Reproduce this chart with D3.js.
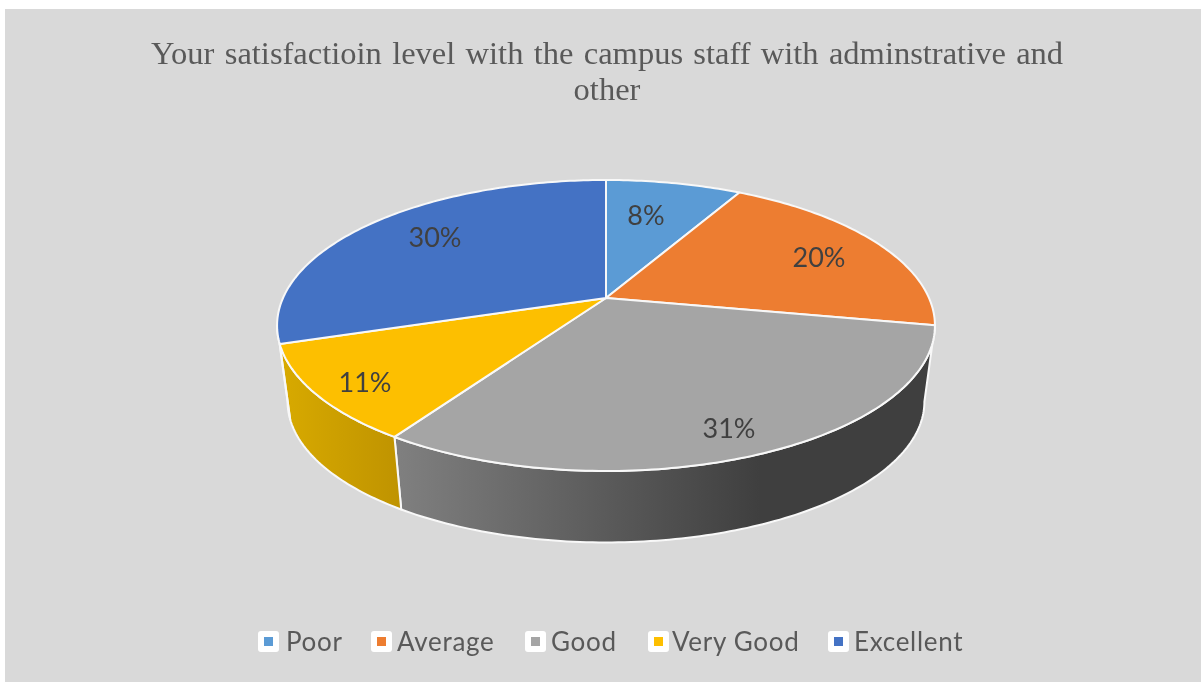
<!DOCTYPE html>
<html><head><meta charset="utf-8">
<script src="https://cdn.jsdelivr.net/npm/d3@7"></script>
<style>html,body{margin:0;padding:0;background:#fff;overflow:hidden}svg{display:block;filter:blur(0.5px)}</style>
</head><body><svg id="c" width="1201" height="682"></svg>
<script>
const categories = ["Poor","Average","Good","Very Good","Excellent"];
const values = [8,20,31.3,10.7,30];
const colors = ["#5b9bd5","#ed7d31","#a5a5a5","#fdbf00","#4472c4"];
const sideLeft = ["#5b9bd5","#ed7d31","#808080","#d8aa00","#345a9c"];
const sideRight = ["#5b9bd5","#ed7d31","#3f3f3f","#bf9300","#345a9c"];
const titleLines = ["Your satisfactioin level with the campus staff with adminstrative and","other"];

const svg = d3.select("#c");
svg.append("rect").attr("x",5).attr("y",9).attr("width",1196).attr("height",673).attr("fill","#d9d9d9");

const colour = d3.scaleOrdinal().domain(categories).range(colors);
const pie = d3.pie().sort(null).value(d=>d.v);
const arcs = pie(categories.map((c,i)=>({c,v:values[i],i})));

// perspective projection of the pie disc
const cx=606, cy=298, A=323, B=140.3, K=0.189, depth=77, baseScale=0.968;
function topPt(a){const u=Math.sin(a),v=-Math.cos(a),d=1-K*v;return [cx+A*u/d, cy+B*v/d];}
function basePt(a){const u=Math.sin(a),v=-Math.cos(a),d=1-K*v;return [cx+baseScale*A*u/d, cy+depth+baseScale*B*v/d];}
const line=d3.line();
const samples=(a0,a1)=>{const n=Math.max(2,Math.ceil((a1-a0)*60));return d3.range(n+1).map(i=>a0+(a1-a0)*i/n);};

const defs=svg.append("defs");
const frontA=Math.PI/2+Math.asin(K), frontB=2*Math.PI-frontA;

// side walls
const stroke="#f8f8f8";
arcs.forEach(d=>{
  const a0=Math.max(d.startAngle,frontA), a1=Math.min(d.endAngle,frontB);
  if(a1<=a0) return;
  const s=samples(a0,a1);
  const pts=s.map(topPt).concat(s.slice().reverse().map(basePt));
  const xs=pts.map(p=>p[0]);
  const id="side"+d.index;
  const g=defs.append("linearGradient").attr("id",id).attr("gradientUnits","userSpaceOnUse")
    .attr("x1",d3.min(xs)).attr("x2",d.index===2?760:d3.max(xs)).attr("y1",0).attr("y2",0);
  g.append("stop").attr("offset",0).attr("stop-color",sideLeft[d.index]);
  g.append("stop").attr("offset",1).attr("stop-color",sideRight[d.index]);
  svg.append("path").attr("d",line(pts)+"Z").attr("fill",`url(#${id})`)
    .attr("stroke",stroke).attr("stroke-width",2).attr("stroke-linejoin","round");
});

// top faces
arcs.forEach(d=>{
  const pts=[[cx,cy]].concat(samples(d.startAngle,d.endAngle).map(topPt));
  svg.append("path").attr("d",line(pts)+"Z").attr("fill",colour(d.data.c))
    .attr("stroke",stroke).attr("stroke-width",2).attr("stroke-linejoin","round");
});

// data labels
const labelAt=[[646,216],[819,258],[729,429],[365,383],[435,238]];
arcs.forEach((d,i)=>{
  svg.append("text").attr("x",labelAt[i][0]).attr("y",labelAt[i][1]).attr("dy","0.35em")
    .attr("text-anchor","middle").attr("font-family","Lato").attr("font-size",27)
    .attr("fill","#404040").text(Math.round(d.data.v)+"%");
});

// title
svg.selectAll("text.t").data(titleLines).join("text").attr("class","t")
  .attr("x",607).attr("y",(d,i)=>63.5+i*36).attr("text-anchor","middle")
  .attr("font-family","Liberation Serif").attr("font-size",32.5).attr("fill","#595959")
  .attr("word-spacing",(d,i)=>i===0?2.2:0).text(d=>d);

// legend
const legX=[258,371,525,648,828], textX=[286,397,551,672,854];
categories.forEach((c,i)=>{
  svg.append("rect").attr("x",legX[i]).attr("y",631).attr("width",21).attr("height",21).attr("rx",3).attr("fill","#fff");
  svg.append("rect").attr("x",legX[i]+6).attr("y",637).attr("width",9).attr("height",9).attr("fill",colour(c));
  svg.append("text").attr("x",textX[i]).attr("y",651).attr("font-family","Lato").attr("font-size",26)
    .attr("letter-spacing",0.7).attr("fill","#595959").text(c);
});
</script></body></html>
